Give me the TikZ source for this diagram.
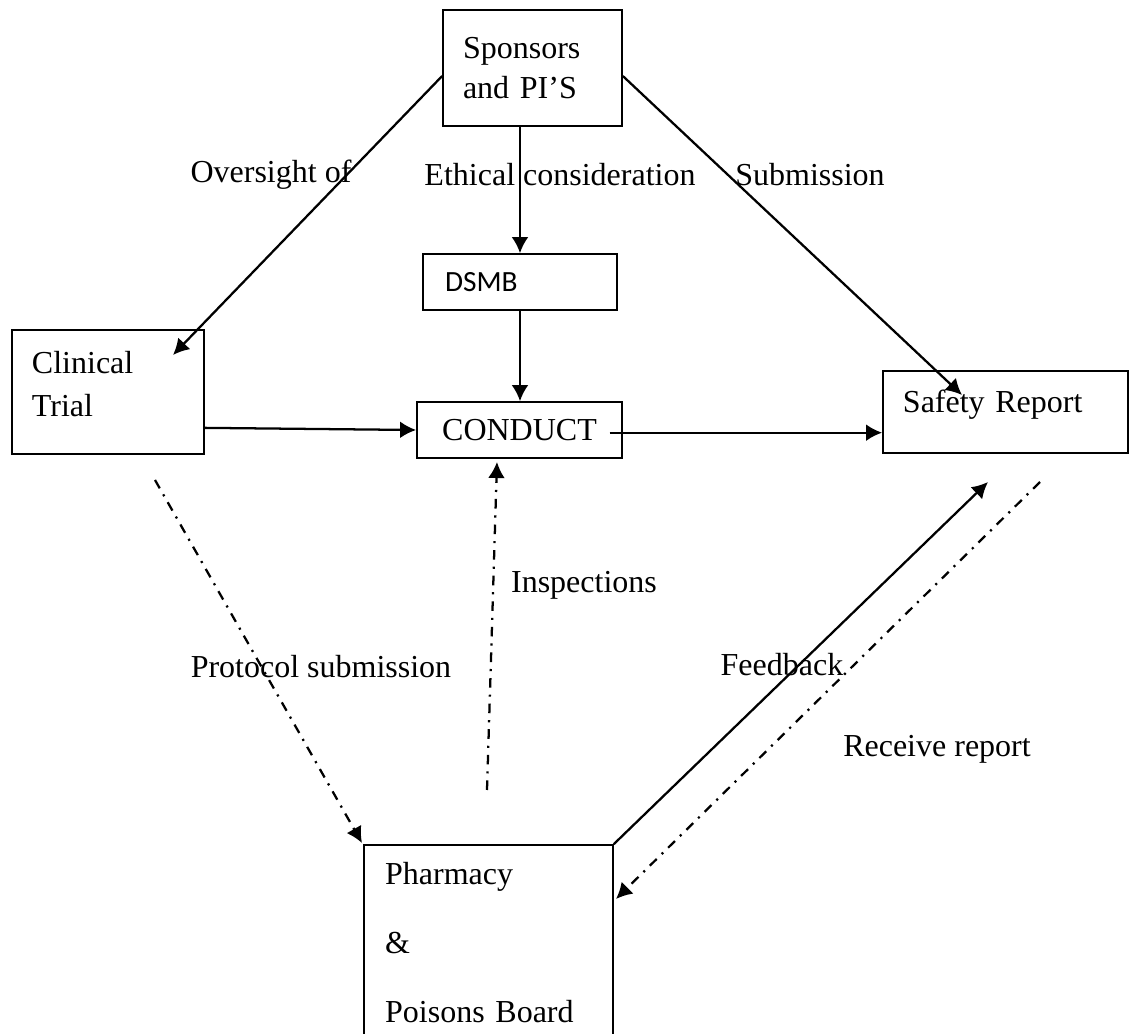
\documentclass[tikz,border=0pt]{standalone}
\usepackage{fontspec}
\setmainfont{Liberation Serif}
\newfontfamily\dsmbfont{Carlito}
\usetikzlibrary{arrows.meta}
\tikzset{
  box/.style={draw, line width=0.65pt, align=left, inner xsep=7.5pt, inner ysep=2pt},
  link/.style={line width=0.85pt, -{Latex[length=6pt,width=6.3pt]}},
  dashlink/.style={link, dash pattern=on 3.6pt off 2.6pt on 0.8pt off 2.6pt},
  lbl/.style={inner sep=0pt}
}

\begin{document}
\begin{tikzpicture}[x=0.375pt, y=-0.375pt, font=\fontsize{12}{15}\selectfont]
\useasboundingbox (0,0) rectangle (1138,1034);

% Boxes
\node[box, text width=52.1pt, minimum height=43.5pt] (spon) at (532.5,68) {Sponsors\\and PI'S};
\node[box, inner xsep=8.25pt, text width=56.25pt, minimum height=21pt] (dsmb) at (520,282) {\dsmbfont\fontsize{11}{13}\selectfont DSMB};
\node[box, text width=57pt, minimum height=46.5pt, font=\fontsize{12}{16}\selectfont] (clin) at (108,392) {Clinical\\Trial\\[-10pt]\mbox{}};
\node[box, align=center, text width=61.9pt, minimum height=21pt] (cond) at (519.5,430) {CONDUCT};
\node[box, text width=76.9pt, minimum height=30.75pt, text depth=8pt] (safe) at (1005.5,412) {Safety Report};
\node[box, inner xsep=7.9pt, text width=77.5pt, minimum height=73.1pt, font=\fontsize{12}{26}\selectfont] (pharm) at (488.5,942.5) {Pharmacy\\\&\\Poisons Board};

% Free ends
\coordinate (ovTip) at (173,355);
\coordinate (subTip) at (962,395);
\coordinate (protStart) at (155,480);
\coordinate (protTip) at (362,843);
\coordinate (inspStart) at (487,790);
\coordinate (inspTip) at (497,462);
\coordinate (fbTip) at (988,482);
\coordinate (recStart) at (1040,482);
\coordinate (recTip) at (616,899);

% Arrows
\draw[link] ([yshift=-3pt]spon.west) -- (ovTip);
\draw[link] ([yshift=-3pt]spon.east) -- (subTip);
\draw[link] (dsmb.north |- spon.south) -- (dsmb.north);
\draw[link] (dsmb.south) -- (dsmb.south |- cond.north);
\draw[link] ([yshift=0.8pt]clin.east |- cond.west) -- (cond.west);
\draw[link] ([xshift=-5pt,yshift=-1pt]cond.east) -- ([yshift=-1pt]cond.east -| safe.west);
\draw[dashlink] (protStart) -- (protTip);
\draw[dashlink] (inspStart) -- (inspTip);
\draw[link] (pharm.north east) -- (fbTip);
\draw[dashlink] (recStart) -- (recTip);

% Labels
\node[lbl] (lOver) at (271,175) {Oversight of};
\node[lbl] (lEth) at (560,175) {Ethical consideration};
\node[lbl] (lSub) at (810,175) {Submission};
\node[lbl] (lInsp) at (584,585) {Inspections};
\node[lbl] (lProt) at (321,667) {Protocol submission};
\node[lbl] (lFb) at (782,665) {Feedback};
\node[lbl] (lRec) at (937,749) {Receive report};
\end{tikzpicture}
\end{document}
